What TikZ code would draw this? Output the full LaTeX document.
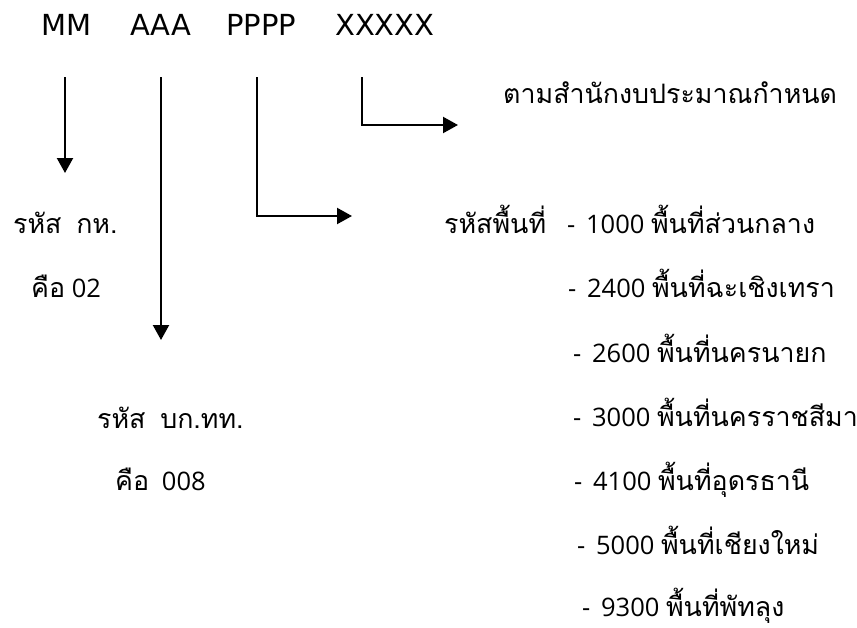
\documentclass[tikz,border=0pt]{standalone}
\usepackage{fontspec}
\setmainfont{Open Sans}
\newfontfamily\codefont{DejaVu Sans}
\newfontfamily\thaifont[Script=Thai,Scale=1.05]{Loma}
\newcommand{\thx}[1]{{\thaifont #1}}
\newcommand{\dsh}{-\hspace{0.42em}}
\usetikzlibrary{arrows.meta}
\tikzset{
  code/.style={anchor=base west, inner sep=0pt, font=\codefont\fontsize{29}{31}\selectfont},
  lab/.style={anchor=base west, inner sep=0pt, font=\fontsize{25.5}{27}\selectfont},
  conn/.style={line width=2.1pt, -{Triangle[length=15pt,width=16pt]}}
}
\begin{document}
\begin{tikzpicture}[x=1pt,y=-1pt]
\useasboundingbox (0,0) rectangle (857,627);
% top code row
\node[code] (mm) at (41,35) {MM};
\node[code] (aaa) at (130,35) {AAA};
\node[code] (pppp) at (226,35) {PPPP};
\node[code] (xxx) at (335,35) {XXXXX};
% labels
\node[lab] (kh) at (13,233) {\thx{รหัส\hspace{0.55em}กห.}};
\node[lab] (kh2) at (31,297) {\thx{คือ} 02};
\node[lab] (bk) at (97,428) {\thx{รหัส\hspace{0.55em}บก.ทท.}};
\node[lab] (bk2) at (115,490) {\thx{คือ}\hspace{0.5em}008};
\node[lab] (bud) at (503,103) {\thx{ตามสำนักงบประมาณกำหนด}};
\node[lab] (area) at (444,233) {\thx{รหัสพื้นที่}};
\node[lab] (r1) at (567,233) {\dsh 1000 \thx{พื้นที่ส่วนกลาง}};
\node[lab] (r2) at (568,297) {\dsh 2400 \thx{พื้นที่ฉะเชิงเทรา}};
\node[lab] (r3) at (573,362) {\dsh 2600 \thx{พื้นที่นครนายก}};
\node[lab] (r4) at (573,426) {\dsh 3000 \thx{พื้นที่นครราชสีมา}};
\node[lab] (r5) at (574,490) {\dsh 4100 \thx{พื้นที่อุดรธานี}};
\node[lab] (r6) at (577,554) {\dsh 5000 \thx{พื้นที่เชียงใหม่}};
\node[lab] (r7) at (582,616) {\dsh 9300 \thx{พื้นที่พัทลุง}};
% connector end points
\coordinate (mmA) at (65,77);
\coordinate (mmB) at (65,173);
\coordinate (aaaA) at (161,77);
\coordinate (aaaB) at (161,340);
\coordinate (ppA) at (257,77);
\coordinate (ppB) at (352,216);
\coordinate (xxA) at (362,77);
\coordinate (xxB) at (458,125);
% connectors
\draw[conn] (mmA) -- (mmB);
\draw[conn] (aaaA) -- (aaaB);
\draw[conn] (ppA) |- (ppB);
\draw[conn] (xxA) |- (xxB);
\end{tikzpicture}
\end{document}
